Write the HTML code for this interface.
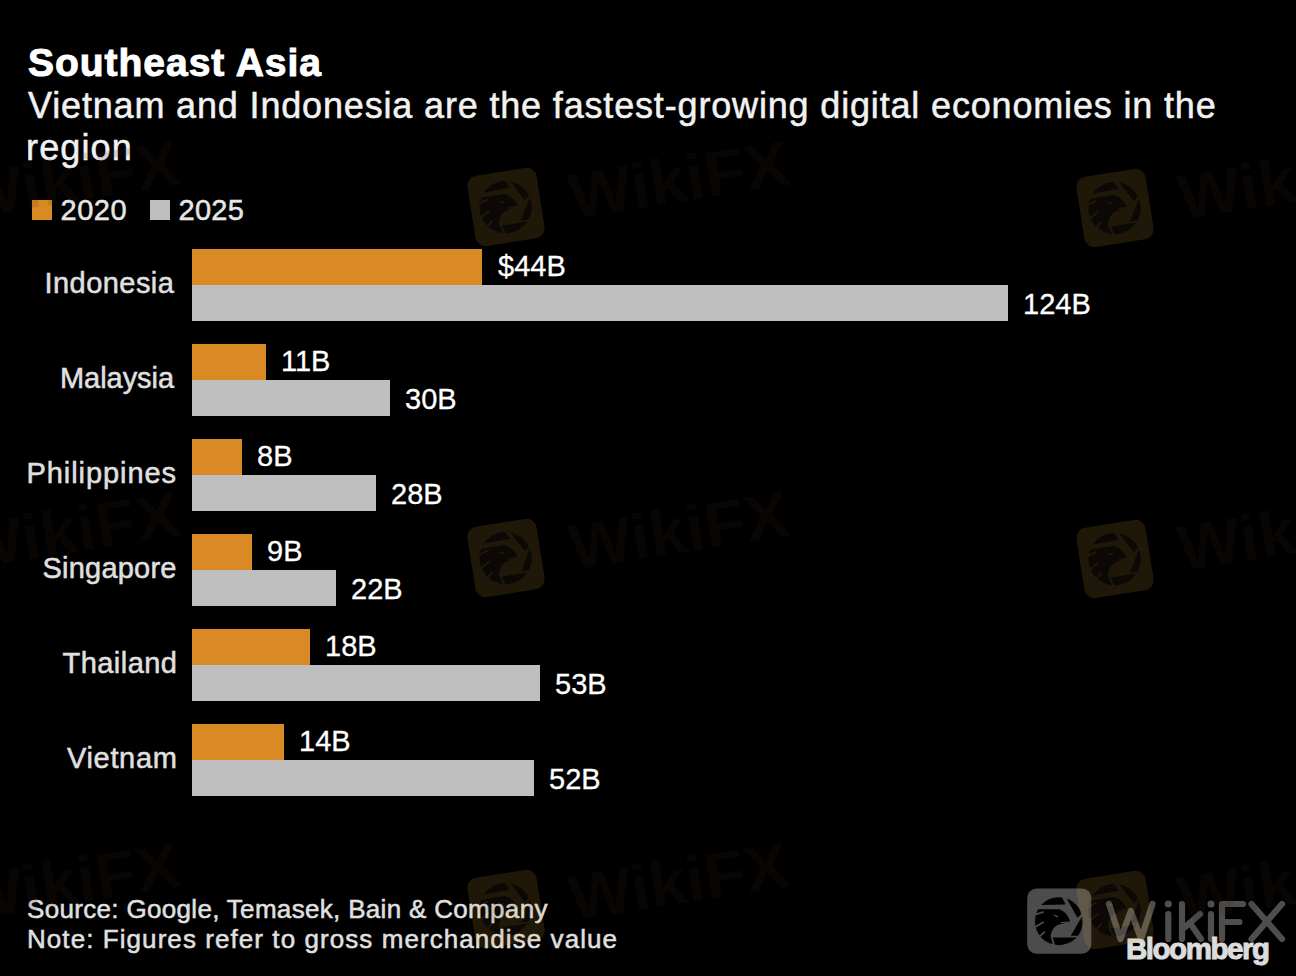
<!DOCTYPE html>
<html><head><meta charset="utf-8"><style>
html,body{margin:0;padding:0;background:#000;width:1296px;height:976px;overflow:hidden}
svg{display:block}
</style></head><body>
<svg width="1296" height="976" viewBox="0 0 1296 976">
<defs><clipPath id="cc"><circle cx="474" cy="503" r="292"/></clipPath></defs>
<rect width="1296" height="976" fill="#000"/>
<g transform="translate(1020,880) scale(0.08197)"><rect x="88" y="105" width="782" height="795" rx="115" fill="#4c4c4c"/>
<g clip-path="url(#cc)" fill="#000000">
<path d="M150 150 L505 150 L510 205 L556 298 L250 306 L150 306 Z"/>
<path d="M545 180 L820 180 L820 360 L760 405 L700 462 Z"/>
<path d="M790 385 L880 385 L880 680 L620 680 Z"/>
<path d="M400 700 L880 700 L880 900 L460 900 Z"/>
<path d="M150 358 L476 356 C530 370 585 420 610 505 C590 520 560 515 470 545 C420 565 390 600 372 682 L430 900 L150 900 Z"/>
</g>
<g stroke="#4c4c4c" stroke-width="22" fill="none">
<path d="M170 425 L290 388"/><path d="M175 580 L290 512"/><path d="M225 700 L305 630"/>
</g>
<path d="M395 418 L472 438 L448 458 Z" fill="#4c4c4c"/>
<path d="M500 520 L600 512" stroke="#4c4c4c" stroke-width="14"/></g><g fill="none" stroke="#4e4e4e" stroke-width="6.2" stroke-linecap="round" stroke-linejoin="round"><path d="M1109 904 L1120.5 939 L1130.8 911 L1141 939 L1152.5 904"/><path d="M1168.3 914 V939"/><path d="M1182 904 V939"/><path d="M1200 914 L1184 928"/><path d="M1190 923 L1201 939"/><path d="M1211 914 V939"/><path d="M1243 904 H1222 V939"/><path d="M1222 922 H1239.5"/><path d="M1251.5 904 L1282 939"/><path d="M1282 904 L1251.5 939"/></g><circle cx="1168.3" cy="904" r="3.6" fill="#4e4e4e"/><circle cx="1211" cy="904" r="3.6" fill="#4e4e4e"/>
<rect x="32" y="200" width="20" height="20" fill="#DA8A24"/>
<rect x="150" y="200" width="20" height="20" fill="#BFBFBF"/>
<rect x="192" y="249" width="290" height="36" fill="#DA8A24"/>
<rect x="192" y="285" width="816" height="36" fill="#BFBFBF"/>
<text x="498" y="276" font-family="Liberation Sans, sans-serif" font-size="29" fill="#fff" stroke="#fff" stroke-width="0.3">$44B</text>
<text x="1023" y="314" font-family="Liberation Sans, sans-serif" font-size="29" fill="#fff" stroke="#fff" stroke-width="0.3">124B</text>
<rect x="192" y="344" width="74" height="36" fill="#DA8A24"/>
<rect x="192" y="380" width="198" height="36" fill="#BFBFBF"/>
<text x="281" y="371" font-family="Liberation Sans, sans-serif" font-size="29" fill="#fff" stroke="#fff" stroke-width="0.3">11B</text>
<text x="405" y="409" font-family="Liberation Sans, sans-serif" font-size="29" fill="#fff" stroke="#fff" stroke-width="0.3">30B</text>
<rect x="192" y="439" width="50" height="36" fill="#DA8A24"/>
<rect x="192" y="475" width="184" height="36" fill="#BFBFBF"/>
<text x="257" y="466" font-family="Liberation Sans, sans-serif" font-size="29" fill="#fff" stroke="#fff" stroke-width="0.3">8B</text>
<text x="391" y="504" font-family="Liberation Sans, sans-serif" font-size="29" fill="#fff" stroke="#fff" stroke-width="0.3">28B</text>
<rect x="192" y="534" width="60" height="36" fill="#DA8A24"/>
<rect x="192" y="570" width="144" height="36" fill="#BFBFBF"/>
<text x="267" y="561" font-family="Liberation Sans, sans-serif" font-size="29" fill="#fff" stroke="#fff" stroke-width="0.3">9B</text>
<text x="351" y="599" font-family="Liberation Sans, sans-serif" font-size="29" fill="#fff" stroke="#fff" stroke-width="0.3">22B</text>
<rect x="192" y="629" width="118" height="36" fill="#DA8A24"/>
<rect x="192" y="665" width="348" height="36" fill="#BFBFBF"/>
<text x="325" y="656" font-family="Liberation Sans, sans-serif" font-size="29" fill="#fff" stroke="#fff" stroke-width="0.3">18B</text>
<text x="555" y="694" font-family="Liberation Sans, sans-serif" font-size="29" fill="#fff" stroke="#fff" stroke-width="0.3">53B</text>
<rect x="192" y="724" width="92" height="36" fill="#DA8A24"/>
<rect x="192" y="760" width="342" height="36" fill="#BFBFBF"/>
<text x="299" y="751" font-family="Liberation Sans, sans-serif" font-size="29" fill="#fff" stroke="#fff" stroke-width="0.3">14B</text>
<text x="549" y="789" font-family="Liberation Sans, sans-serif" font-size="29" fill="#fff" stroke="#fff" stroke-width="0.3">52B</text>
<text id="title" x="28.00" y="76" font-family="Liberation Sans, sans-serif" font-weight="bold" font-size="39" fill="#ffffff" stroke="#ffffff" stroke-width="1.0" textLength="293.00" lengthAdjust="spacing">Southeast Asia</text>
<text id="sub1" x="28.00" y="118" font-family="Liberation Sans, sans-serif" font-size="36" fill="#f2f2f2" stroke="#f2f2f2" stroke-width="0.5" textLength="1187.73" lengthAdjust="spacing">Vietnam and Indonesia are the fastest-growing digital economies in the</text>
<text id="sub2" x="26.00" y="160" font-family="Liberation Sans, sans-serif" font-size="36" fill="#f2f2f2" stroke="#f2f2f2" stroke-width="0.5" textLength="105.78" lengthAdjust="spacing">region</text>
<text id="l2020" x="60.50" y="220" font-family="Liberation Sans, sans-serif" font-size="29" fill="#e6e6e6" stroke="#e6e6e6" stroke-width="0.5" textLength="66.12" lengthAdjust="spacing">2020</text>
<text id="l2025" x="178.50" y="220" font-family="Liberation Sans, sans-serif" font-size="29" fill="#e6e6e6" stroke="#e6e6e6" stroke-width="0.5" textLength="65.42" lengthAdjust="spacing">2025</text>
<text id="cat0" x="44.50" y="293" font-family="Liberation Sans, sans-serif" font-size="29" fill="#e0e0e0" stroke="#e0e0e0" stroke-width="0.5" textLength="129.38" lengthAdjust="spacing">Indonesia</text>
<text id="cat1" x="60.00" y="388" font-family="Liberation Sans, sans-serif" font-size="29" fill="#e0e0e0" stroke="#e0e0e0" stroke-width="0.5" textLength="114.04" lengthAdjust="spacing">Malaysia</text>
<text id="cat2" x="26.50" y="483" font-family="Liberation Sans, sans-serif" font-size="29" fill="#e0e0e0" stroke="#e0e0e0" stroke-width="0.5" textLength="149.57" lengthAdjust="spacing">Philippines</text>
<text id="cat3" x="42.50" y="578" font-family="Liberation Sans, sans-serif" font-size="29" fill="#e0e0e0" stroke="#e0e0e0" stroke-width="0.5" textLength="133.92" lengthAdjust="spacing">Singapore</text>
<text id="cat4" x="62.50" y="673" font-family="Liberation Sans, sans-serif" font-size="29" fill="#e0e0e0" stroke="#e0e0e0" stroke-width="0.5" textLength="114.45" lengthAdjust="spacing">Thailand</text>
<text id="cat5" x="67.00" y="768" font-family="Liberation Sans, sans-serif" font-size="29" fill="#e0e0e0" stroke="#e0e0e0" stroke-width="0.5" textLength="109.87" lengthAdjust="spacing">Vietnam</text>
<text id="source" x="27.00" y="918" font-family="Liberation Sans, sans-serif" font-size="26" fill="#e0e0e0" stroke="#e0e0e0" stroke-width="0.5" textLength="520.43" lengthAdjust="spacing">Source: Google, Temasek, Bain &amp; Company</text>
<text id="note" x="27.00" y="948" font-family="Liberation Sans, sans-serif" font-size="26" fill="#e0e0e0" stroke="#e0e0e0" stroke-width="0.5" textLength="590.02" lengthAdjust="spacing">Note: Figures refer to gross merchandise value</text>
<text id="bloom" x="1126.00" y="959" font-family="Liberation Sans, sans-serif" font-weight="bold" font-size="29.5" fill="#dcdcdc" stroke="#dcdcdc" stroke-width="1.0" textLength="143.98" lengthAdjust="spacing">Bloomberg</text>
<g opacity="0.14" transform="translate(506,207) rotate(-9)"><g transform="scale(0.0895) translate(-479,-502.5)"><rect x="88" y="105" width="782" height="795" rx="115" fill="#DDAB39"/>
<g clip-path="url(#cc)" fill="#4F3924">
<path d="M150 150 L505 150 L510 205 L556 298 L250 306 L150 306 Z"/>
<path d="M545 180 L820 180 L820 360 L760 405 L700 462 Z"/>
<path d="M790 385 L880 385 L880 680 L620 680 Z"/>
<path d="M400 700 L880 700 L880 900 L460 900 Z"/>
<path d="M150 358 L476 356 C530 370 585 420 610 505 C590 520 560 515 470 545 C420 565 390 600 372 682 L430 900 L150 900 Z"/>
</g>
<g stroke="#DDAB39" stroke-width="22" fill="none">
<path d="M170 425 L290 388"/><path d="M175 580 L290 512"/><path d="M225 700 L305 630"/>
</g>
<path d="M395 418 L472 438 L448 458 Z" fill="#DDAB39"/>
<path d="M500 520 L600 512" stroke="#DDAB39" stroke-width="14"/></g><text x="64" y="22" font-family="Liberation Sans, sans-serif" font-weight="bold" font-size="64" fill="#3E2418" textLength="222" lengthAdjust="spacingAndGlyphs">WikiFX</text></g>
<g opacity="0.14" transform="translate(1115,208) rotate(-9)"><g transform="scale(0.0895) translate(-479,-502.5)"><rect x="88" y="105" width="782" height="795" rx="115" fill="#DDAB39"/>
<g clip-path="url(#cc)" fill="#4F3924">
<path d="M150 150 L505 150 L510 205 L556 298 L250 306 L150 306 Z"/>
<path d="M545 180 L820 180 L820 360 L760 405 L700 462 Z"/>
<path d="M790 385 L880 385 L880 680 L620 680 Z"/>
<path d="M400 700 L880 700 L880 900 L460 900 Z"/>
<path d="M150 358 L476 356 C530 370 585 420 610 505 C590 520 560 515 470 545 C420 565 390 600 372 682 L430 900 L150 900 Z"/>
</g>
<g stroke="#DDAB39" stroke-width="22" fill="none">
<path d="M170 425 L290 388"/><path d="M175 580 L290 512"/><path d="M225 700 L305 630"/>
</g>
<path d="M395 418 L472 438 L448 458 Z" fill="#DDAB39"/>
<path d="M500 520 L600 512" stroke="#DDAB39" stroke-width="14"/></g><text x="64" y="22" font-family="Liberation Sans, sans-serif" font-weight="bold" font-size="64" fill="#3E2418" textLength="222" lengthAdjust="spacingAndGlyphs">WikiFX</text></g>
<g opacity="0.14" transform="translate(-103,207) rotate(-9)"><g transform="scale(0.0895) translate(-479,-502.5)"><rect x="88" y="105" width="782" height="795" rx="115" fill="#DDAB39"/>
<g clip-path="url(#cc)" fill="#4F3924">
<path d="M150 150 L505 150 L510 205 L556 298 L250 306 L150 306 Z"/>
<path d="M545 180 L820 180 L820 360 L760 405 L700 462 Z"/>
<path d="M790 385 L880 385 L880 680 L620 680 Z"/>
<path d="M400 700 L880 700 L880 900 L460 900 Z"/>
<path d="M150 358 L476 356 C530 370 585 420 610 505 C590 520 560 515 470 545 C420 565 390 600 372 682 L430 900 L150 900 Z"/>
</g>
<g stroke="#DDAB39" stroke-width="22" fill="none">
<path d="M170 425 L290 388"/><path d="M175 580 L290 512"/><path d="M225 700 L305 630"/>
</g>
<path d="M395 418 L472 438 L448 458 Z" fill="#DDAB39"/>
<path d="M500 520 L600 512" stroke="#DDAB39" stroke-width="14"/></g><text x="64" y="22" font-family="Liberation Sans, sans-serif" font-weight="bold" font-size="64" fill="#3E2418" textLength="222" lengthAdjust="spacingAndGlyphs">WikiFX</text></g>
<g opacity="0.14" transform="translate(506,558) rotate(-9)"><g transform="scale(0.0895) translate(-479,-502.5)"><rect x="88" y="105" width="782" height="795" rx="115" fill="#DDAB39"/>
<g clip-path="url(#cc)" fill="#4F3924">
<path d="M150 150 L505 150 L510 205 L556 298 L250 306 L150 306 Z"/>
<path d="M545 180 L820 180 L820 360 L760 405 L700 462 Z"/>
<path d="M790 385 L880 385 L880 680 L620 680 Z"/>
<path d="M400 700 L880 700 L880 900 L460 900 Z"/>
<path d="M150 358 L476 356 C530 370 585 420 610 505 C590 520 560 515 470 545 C420 565 390 600 372 682 L430 900 L150 900 Z"/>
</g>
<g stroke="#DDAB39" stroke-width="22" fill="none">
<path d="M170 425 L290 388"/><path d="M175 580 L290 512"/><path d="M225 700 L305 630"/>
</g>
<path d="M395 418 L472 438 L448 458 Z" fill="#DDAB39"/>
<path d="M500 520 L600 512" stroke="#DDAB39" stroke-width="14"/></g><text x="64" y="22" font-family="Liberation Sans, sans-serif" font-weight="bold" font-size="64" fill="#3E2418" textLength="222" lengthAdjust="spacingAndGlyphs">WikiFX</text></g>
<g opacity="0.14" transform="translate(1115,559) rotate(-9)"><g transform="scale(0.0895) translate(-479,-502.5)"><rect x="88" y="105" width="782" height="795" rx="115" fill="#DDAB39"/>
<g clip-path="url(#cc)" fill="#4F3924">
<path d="M150 150 L505 150 L510 205 L556 298 L250 306 L150 306 Z"/>
<path d="M545 180 L820 180 L820 360 L760 405 L700 462 Z"/>
<path d="M790 385 L880 385 L880 680 L620 680 Z"/>
<path d="M400 700 L880 700 L880 900 L460 900 Z"/>
<path d="M150 358 L476 356 C530 370 585 420 610 505 C590 520 560 515 470 545 C420 565 390 600 372 682 L430 900 L150 900 Z"/>
</g>
<g stroke="#DDAB39" stroke-width="22" fill="none">
<path d="M170 425 L290 388"/><path d="M175 580 L290 512"/><path d="M225 700 L305 630"/>
</g>
<path d="M395 418 L472 438 L448 458 Z" fill="#DDAB39"/>
<path d="M500 520 L600 512" stroke="#DDAB39" stroke-width="14"/></g><text x="64" y="22" font-family="Liberation Sans, sans-serif" font-weight="bold" font-size="64" fill="#3E2418" textLength="222" lengthAdjust="spacingAndGlyphs">WikiFX</text></g>
<g opacity="0.14" transform="translate(-103,558) rotate(-9)"><g transform="scale(0.0895) translate(-479,-502.5)"><rect x="88" y="105" width="782" height="795" rx="115" fill="#DDAB39"/>
<g clip-path="url(#cc)" fill="#4F3924">
<path d="M150 150 L505 150 L510 205 L556 298 L250 306 L150 306 Z"/>
<path d="M545 180 L820 180 L820 360 L760 405 L700 462 Z"/>
<path d="M790 385 L880 385 L880 680 L620 680 Z"/>
<path d="M400 700 L880 700 L880 900 L460 900 Z"/>
<path d="M150 358 L476 356 C530 370 585 420 610 505 C590 520 560 515 470 545 C420 565 390 600 372 682 L430 900 L150 900 Z"/>
</g>
<g stroke="#DDAB39" stroke-width="22" fill="none">
<path d="M170 425 L290 388"/><path d="M175 580 L290 512"/><path d="M225 700 L305 630"/>
</g>
<path d="M395 418 L472 438 L448 458 Z" fill="#DDAB39"/>
<path d="M500 520 L600 512" stroke="#DDAB39" stroke-width="14"/></g><text x="64" y="22" font-family="Liberation Sans, sans-serif" font-weight="bold" font-size="64" fill="#3E2418" textLength="222" lengthAdjust="spacingAndGlyphs">WikiFX</text></g>
<g opacity="0.14" transform="translate(506,909) rotate(-9)"><g transform="scale(0.0895) translate(-479,-502.5)"><rect x="88" y="105" width="782" height="795" rx="115" fill="#DDAB39"/>
<g clip-path="url(#cc)" fill="#4F3924">
<path d="M150 150 L505 150 L510 205 L556 298 L250 306 L150 306 Z"/>
<path d="M545 180 L820 180 L820 360 L760 405 L700 462 Z"/>
<path d="M790 385 L880 385 L880 680 L620 680 Z"/>
<path d="M400 700 L880 700 L880 900 L460 900 Z"/>
<path d="M150 358 L476 356 C530 370 585 420 610 505 C590 520 560 515 470 545 C420 565 390 600 372 682 L430 900 L150 900 Z"/>
</g>
<g stroke="#DDAB39" stroke-width="22" fill="none">
<path d="M170 425 L290 388"/><path d="M175 580 L290 512"/><path d="M225 700 L305 630"/>
</g>
<path d="M395 418 L472 438 L448 458 Z" fill="#DDAB39"/>
<path d="M500 520 L600 512" stroke="#DDAB39" stroke-width="14"/></g><text x="64" y="22" font-family="Liberation Sans, sans-serif" font-weight="bold" font-size="64" fill="#3E2418" textLength="222" lengthAdjust="spacingAndGlyphs">WikiFX</text></g>
<g opacity="0.14" transform="translate(1115,910) rotate(-9)"><g transform="scale(0.0895) translate(-479,-502.5)"><rect x="88" y="105" width="782" height="795" rx="115" fill="#DDAB39"/>
<g clip-path="url(#cc)" fill="#4F3924">
<path d="M150 150 L505 150 L510 205 L556 298 L250 306 L150 306 Z"/>
<path d="M545 180 L820 180 L820 360 L760 405 L700 462 Z"/>
<path d="M790 385 L880 385 L880 680 L620 680 Z"/>
<path d="M400 700 L880 700 L880 900 L460 900 Z"/>
<path d="M150 358 L476 356 C530 370 585 420 610 505 C590 520 560 515 470 545 C420 565 390 600 372 682 L430 900 L150 900 Z"/>
</g>
<g stroke="#DDAB39" stroke-width="22" fill="none">
<path d="M170 425 L290 388"/><path d="M175 580 L290 512"/><path d="M225 700 L305 630"/>
</g>
<path d="M395 418 L472 438 L448 458 Z" fill="#DDAB39"/>
<path d="M500 520 L600 512" stroke="#DDAB39" stroke-width="14"/></g><text x="64" y="22" font-family="Liberation Sans, sans-serif" font-weight="bold" font-size="64" fill="#3E2418" textLength="222" lengthAdjust="spacingAndGlyphs">WikiFX</text></g>
<g opacity="0.14" transform="translate(-103,909) rotate(-9)"><g transform="scale(0.0895) translate(-479,-502.5)"><rect x="88" y="105" width="782" height="795" rx="115" fill="#DDAB39"/>
<g clip-path="url(#cc)" fill="#4F3924">
<path d="M150 150 L505 150 L510 205 L556 298 L250 306 L150 306 Z"/>
<path d="M545 180 L820 180 L820 360 L760 405 L700 462 Z"/>
<path d="M790 385 L880 385 L880 680 L620 680 Z"/>
<path d="M400 700 L880 700 L880 900 L460 900 Z"/>
<path d="M150 358 L476 356 C530 370 585 420 610 505 C590 520 560 515 470 545 C420 565 390 600 372 682 L430 900 L150 900 Z"/>
</g>
<g stroke="#DDAB39" stroke-width="22" fill="none">
<path d="M170 425 L290 388"/><path d="M175 580 L290 512"/><path d="M225 700 L305 630"/>
</g>
<path d="M395 418 L472 438 L448 458 Z" fill="#DDAB39"/>
<path d="M500 520 L600 512" stroke="#DDAB39" stroke-width="14"/></g><text x="64" y="22" font-family="Liberation Sans, sans-serif" font-weight="bold" font-size="64" fill="#3E2418" textLength="222" lengthAdjust="spacingAndGlyphs">WikiFX</text></g>
</svg></body></html>
